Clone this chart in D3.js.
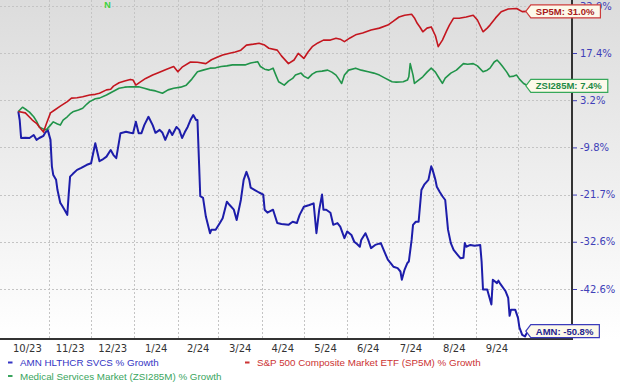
<!DOCTYPE html>
<html>
<head>
<meta charset="utf-8">
<script src="https://cdn.jsdelivr.net/npm/d3@7"></script>
<style>
html,body{margin:0;padding:0;background:#fff;}
svg{display:block;}
</style>
</head>
<body>
<svg id="chart" width="620" height="392"></svg>
<script>
// ---- Data ----
const monthTicks = ["2023-11-01","2023-12-01","2024-01-01","2024-02-01","2024-03-01","2024-04-01","2024-05-01","2024-06-01","2024-07-01","2024-08-01","2024-09-01","2024-10-01"];
const monthLabels = ["10/23","11/23","12/23","1/24","2/24","3/24","4/24","5/24","6/24","7/24","8/24","9/24"];
const yTickValues = [32.9, 17.4, 3.2, -9.8, -21.7, -32.6, -42.6];

const seriesNames = ["AMN HLTHCR SVCS % Growth", "S&P 500 Composite Market ETF (SP5M) % Growth", "Medical Services Market (ZSI285M) % Growth"];
const calloutLabels = ["AMN: -50.8%", "SP5M: 31.0%", "ZSI285M: 7.4%"];

const amnSeries = [
["2023-10-10",0.0],["2023-10-11",-2.4],["2023-10-12",-7.3],["2023-10-15",-7.2],["2023-10-18",-7.3],["2023-10-21",-6.5],["2023-10-23",-7.8],["2023-10-25",-7.3],["2023-10-28",-6.7],["2023-10-29",-6.0],["2023-10-31",-5.1],
["2023-11-02",-7.8],["2023-11-03",-14.7],["2023-11-04",-16.9],["2023-11-06",-18.1],["2023-11-07",-20.6],["2023-11-09",-23.7],["2023-11-10",-24.2],["2023-11-12",-25.3],["2023-11-14",-26.5],["2023-11-15",-21.7],["2023-11-16",-17.3],["2023-11-18",-16.6],["2023-11-21",-15.6],["2023-11-24",-15.1],["2023-11-28",-14.3],
["2023-12-01",-13.9],["2023-12-04",-8.7],["2023-12-07",-13.4],["2023-12-09",-13.0],["2023-12-12",-12.2],["2023-12-15",-10.5],["2023-12-17",-11.8],["2023-12-19",-12.6],["2023-12-22",-6.0],["2023-12-26",-5.6],["2023-12-29",-5.9],["2023-12-31",-6.0],
["2024-01-02",-2.9],["2024-01-04",-6.0],["2024-01-06",-6.0],["2024-01-08",-3.8],["2024-01-11",-1.5],["2024-01-14",-3.8],["2024-01-16",-5.9],["2024-01-19",-5.1],["2024-01-21",-5.9],["2024-01-23",-7.8],["2024-01-26",-5.1],["2024-01-28",-6.5],["2024-01-31",-4.3],
["2024-02-02",-5.1],["2024-02-04",-7.3],["2024-02-06",-5.7],["2024-02-08",-4.3],["2024-02-10",-2.4],["2024-02-12",-1.0],["2024-02-14",-2.4],["2024-02-15",-2.4],["2024-02-17",-22.1],["2024-02-19",-22.5],["2024-02-21",-26.9],["2024-02-24",-30.7],["2024-02-25",-29.9],["2024-02-28",-29.9],
["2024-03-02",-28.4],["2024-03-04",-27.3],["2024-03-07",-23.4],["2024-03-09",-24.2],["2024-03-12",-25.3],["2024-03-14",-27.7],["2024-03-17",-23.0],["2024-03-19",-18.1],["2024-03-21",-16.1],["2024-03-23",-18.1],["2024-03-24",-20.0],["2024-03-27",-20.6],["2024-03-30",-21.2],
["2024-04-02",-21.7],["2024-04-03",-25.3],["2024-04-05",-26.0],["2024-04-09",-25.3],["2024-04-12",-28.4],["2024-04-15",-28.6],["2024-04-20",-28.8],["2024-04-23",-28.1],["2024-04-26",-28.4],["2024-04-28",-26.5],
["2024-05-01",-24.6],["2024-05-05",-24.2],["2024-05-08",-23.8],["2024-05-10",-30.7],["2024-05-12",-25.3],["2024-05-14",-21.7],["2024-05-15",-25.3],["2024-05-17",-25.3],["2024-05-20",-26.0],["2024-05-22",-28.8],["2024-05-25",-28.4],["2024-05-27",-29.2],["2024-05-30",-31.8],
["2024-06-01",-30.3],["2024-06-04",-31.1],["2024-06-06",-32.6],["2024-06-08",-33.1],["2024-06-10",-33.7],["2024-06-11",-32.2],["2024-06-14",-30.7],["2024-06-16",-32.2],["2024-06-18",-34.0],["2024-06-21",-33.3],["2024-06-25",-32.9],["2024-06-28",-35.1],["2024-06-30",-36.5],
["2024-07-03",-37.6],["2024-07-04",-38.0],["2024-07-07",-38.3],["2024-07-09",-39.0],["2024-07-10",-40.7],["2024-07-12",-38.6],["2024-07-14",-37.2],["2024-07-15",-36.9],["2024-07-17",-32.2],["2024-07-18",-28.8],["2024-07-20",-28.1],["2024-07-22",-28.1],["2024-07-24",-20.6],["2024-07-26",-19.3],["2024-07-29",-18.1],["2024-07-31",-14.7],
["2024-08-01",-15.6],["2024-08-03",-18.1],["2024-08-04",-19.8],["2024-08-06",-21.0],["2024-08-08",-22.1],["2024-08-10",-23.0],["2024-08-12",-29.9],["2024-08-14",-32.9],["2024-08-16",-34.4],["2024-08-19",-35.5],["2024-08-21",-36.2],["2024-08-23",-36.1],["2024-08-24",-32.9],["2024-08-25",-33.7],["2024-08-28",-33.3],["2024-08-31",-33.5],
["2024-09-04",-33.3],["2024-09-05",-36.9],["2024-09-06",-42.7],["2024-09-09",-42.7],["2024-09-12",-45.7],["2024-09-13",-40.7],["2024-09-16",-41.4],["2024-09-17",-40.9],["2024-09-18",-41.4],["2024-09-22",-43.0],["2024-09-24",-44.4],["2024-09-25",-47.9],["2024-09-26",-46.7],["2024-09-29",-46.7],
["2024-10-01",-48.3],["2024-10-02",-50.1],["2024-10-04",-51.5],["2024-10-06",-51.8],["2024-10-08",-50.8]
];

const sp5mSeries = [
["2023-10-10",0.0],["2023-10-15",-0.4],["2023-10-20",-2.4],["2023-10-23",-3.3],["2023-10-25",-4.3],["2023-10-28",-5.7],["2023-10-30",-3.5],
["2023-11-02",-0.4],["2023-11-05",0.4],["2023-11-09",1.5],["2023-11-14",2.8],["2023-11-17",3.8],["2023-11-21",3.9],["2023-11-25",4.2],["2023-11-30",4.7],
["2023-12-04",4.9],["2023-12-07",5.2],["2023-12-12",6.2],["2023-12-15",6.4],["2023-12-17",7.3],["2023-12-21",8.3],["2023-12-25",8.8],["2023-12-29",9.3],["2023-12-31",9.1],
["2024-01-02",7.6],["2024-01-05",8.5],["2024-01-09",9.6],["2024-01-14",10.6],["2024-01-18",11.3],["2024-01-24",12.4],["2024-01-29",13.2],
["2024-02-01",11.6],["2024-02-04",13.0],["2024-02-10",14.6],["2024-02-15",14.5],["2024-02-21",14.1],["2024-02-25",15.3],["2024-02-29",16.1],
["2024-03-04",16.8],["2024-03-09",17.3],["2024-03-13",17.7],["2024-03-17",18.3],["2024-03-21",19.9],["2024-03-26",20.2],["2024-03-30",20.5],
["2024-04-03",19.9],["2024-04-06",18.9],["2024-04-12",18.3],["2024-04-15",16.5],["2024-04-20",14.1],["2024-04-24",15.2],["2024-04-27",17.3],
["2024-05-01",15.7],["2024-05-04",17.7],["2024-05-07",19.4],["2024-05-11",20.6],["2024-05-15",21.5],["2024-05-20",21.5],["2024-05-24",22.1],["2024-05-27",21.8],["2024-05-30",21.0],
["2024-06-03",22.2],["2024-06-07",23.2],["2024-06-12",23.8],["2024-06-18",24.8],["2024-06-24",25.4],["2024-06-30",26.4],
["2024-07-04",27.7],["2024-07-08",29.1],["2024-07-12",29.7],["2024-07-17",30.0],["2024-07-19",28.8],["2024-07-21",27.0],["2024-07-23",25.7],["2024-07-25",24.2],["2024-07-28",25.4],["2024-07-31",25.8],
["2024-08-03",22.9],["2024-08-05",19.4],["2024-08-08",21.5],["2024-08-11",24.5],["2024-08-13",26.4],["2024-08-16",28.7],["2024-08-20",28.7],["2024-08-25",29.1],["2024-08-30",29.7],
["2024-09-02",28.1],["2024-09-06",24.2],["2024-09-09",25.4],["2024-09-11",26.4],["2024-09-15",28.8],["2024-09-19",30.9],["2024-09-24",31.8],["2024-09-30",32.0],
["2024-10-04",30.9],["2024-10-08",31.0]
];

const zsi285mSeries = [
["2023-10-10",0.0],["2023-10-13",1.2],["2023-10-16",0.4],["2023-10-18",-0.2],["2023-10-21",-1.5],["2023-10-23",-2.7],["2023-10-25",-4.3],["2023-10-28",-4.9],["2023-10-30",-5.1],
["2023-11-02",-3.8],["2023-11-04",-2.9],["2023-11-07",-3.5],["2023-11-09",-3.8],["2023-11-11",-2.4],["2023-11-14",-1.5],["2023-11-16",-0.7],["2023-11-18",-0.1],["2023-11-22",0.4],["2023-11-25",0.9],["2023-11-28",2.1],["2023-11-30",2.8],
["2023-12-04",3.6],["2023-12-07",3.8],["2023-12-12",4.7],["2023-12-16",5.6],["2023-12-21",6.7],["2023-12-25",7.0],["2023-12-29",7.1],
["2024-01-04",7.1],["2024-01-08",6.7],["2024-01-12",6.2],["2024-01-16",5.9],["2024-01-21",5.2],["2024-01-25",6.2],["2024-01-29",6.7],
["2024-02-03",7.0],["2024-02-07",7.6],["2024-02-11",9.4],["2024-02-15",11.6],["2024-02-19",12.1],["2024-02-24",12.7],["2024-02-28",12.8],
["2024-03-03",13.2],["2024-03-07",13.4],["2024-03-11",13.7],["2024-03-16",13.7],["2024-03-20",13.7],["2024-03-24",14.3],["2024-03-29",14.7],["2024-03-31",13.2],
["2024-04-03",12.4],["2024-04-06",12.1],["2024-04-09",12.7],["2024-04-11",10.6],["2024-04-13",8.6],["2024-04-17",7.6],["2024-04-20",8.8],["2024-04-23",9.6],["2024-04-25",10.6],["2024-04-29",11.2],
["2024-05-01",10.3],["2024-05-04",9.6],["2024-05-07",10.9],["2024-05-10",11.6],["2024-05-14",11.8],["2024-05-18",12.1],["2024-05-21",11.5],["2024-05-24",10.6],["2024-05-26",9.4],["2024-05-28",8.1],["2024-05-30",10.6],
["2024-06-02",12.1],["2024-06-07",12.7],["2024-06-11",12.1],["2024-06-16",11.6],["2024-06-20",11.2],["2024-06-24",10.6],["2024-06-28",9.7],
["2024-07-03",8.6],["2024-07-06",8.5],["2024-07-11",8.6],["2024-07-14",9.1],["2024-07-15",10.1],["2024-07-16",14.1],["2024-07-18",10.6],["2024-07-19",8.1],["2024-07-22",9.1],["2024-07-25",10.1],["2024-07-28",11.5],["2024-07-31",12.7],
["2024-08-03",11.5],["2024-08-05",10.1],["2024-08-08",8.1],["2024-08-10",9.7],["2024-08-14",11.2],["2024-08-18",12.1],["2024-08-23",14.1],["2024-08-26",13.9],["2024-08-30",14.1],
["2024-09-02",13.4],["2024-09-06",11.6],["2024-09-09",12.1],["2024-09-11",12.7],["2024-09-14",14.6],["2024-09-16",15.2],["2024-09-18",14.3],["2024-09-20",13.2],["2024-09-23",11.5],["2024-09-25",10.1],["2024-09-28",10.3],["2024-09-30",10.6],
["2024-10-02",9.4],["2024-10-05",8.1],["2024-10-08",7.4]
];

// ---- Chart ----
const parse = d3.timeParse("%Y-%m-%d");
const svg = d3.select("#chart");
const W = 620, H = 392;
const axisX = 572, axisY = 339;
const C = 151.3; // offset of the chart's logarithmic growth axis

const x = d3.scaleTime().domain([parse("2023-10-01"), parse("2024-10-01")]).range([5.7, 518]);
const yLog = d3.scaleLog().domain([17.4 + C, -42.6 + C]).range([53, 289]);
const y = v => yLog(v + C);

const defs = svg.append("defs");
const grad = defs.append("linearGradient").attr("id","bg").attr("x1",0).attr("y1",0).attr("x2",0).attr("y2",1);
grad.append("stop").attr("offset","0%").attr("stop-color","#dcdcdc");
grad.append("stop").attr("offset","60%").attr("stop-color","#f1f1f1");
grad.append("stop").attr("offset","100%").attr("stop-color","#ffffff");

svg.append("rect").attr("width",W).attr("height",H).attr("fill","#fff");
svg.append("rect").attr("x",0).attr("y",0).attr("width",W).attr("height",axisY).attr("fill","url(#bg)");

// grid
const grid = svg.append("g").attr("stroke","#c4c4c4").attr("stroke-width",1).attr("stroke-dasharray","2,2");
grid.selectAll("line.v").data(monthTicks.map(parse)).join("line")
  .attr("x1",d=>Math.round(x(d))+0.5).attr("x2",d=>Math.round(x(d))+0.5)
  .attr("y1",0).attr("y2",axisY);
grid.selectAll("line.h").data(yTickValues).join("line")
  .attr("x1",0).attr("x2",axisX)
  .attr("y1",d=>Math.round(y(d))+0.5).attr("y2",d=>Math.round(y(d))+0.5);

// y axis (right)
const yAxis = d3.axisRight(yLog)
  .tickValues(yTickValues.map(v => v + C))
  .tickFormat(d => (d - C).toFixed(1) + "%")
  .tickSize(5).tickPadding(3);
const ya = svg.append("g").attr("transform",`translate(${axisX},0)`).call(yAxis);
ya.select(".domain").remove();
ya.selectAll(".tick line").attr("stroke","#4040b8");
ya.selectAll(".tick text").attr("fill","#4040b8").attr("font-family","DejaVu Sans, Verdana, sans-serif").attr("font-size","10px");

// x labels (centered in months)
const monthStarts = [parse("2023-10-01")].concat(monthTicks.map(parse));
svg.append("g").selectAll("text").data(monthLabels).join("text")
  .attr("x",(d,i)=> (x(monthStarts[i]) + x(monthStarts[i+1]))/2)
  .attr("y",351.5)
  .attr("text-anchor","middle")
  .attr("font-family","DejaVu Sans, Verdana, sans-serif")
  .attr("font-size","10px")
  .attr("fill","#333")
  .text(d=>d);

// lines
const line = d3.line().x(d=>x(parse(d[0]))).y(d=>y(d[1]));
const series = [
  {data: amnSeries, color:"#1d1daa", width:2},
  {data: zsi285mSeries, color:"#21944a", width:1.6},
  {data: sp5mSeries, color:"#c4161f", width:1.6}
];
svg.append("g").selectAll("path").data(series).join("path")
  .attr("d",d=>line(d.data)).attr("fill","none")
  .attr("stroke",d=>d.color).attr("stroke-width",d=>d.width)
  .attr("stroke-linejoin","round");

// axes lines
svg.append("line").attr("x1",0).attr("x2",axisX+1).attr("y1",axisY).attr("y2",axisY).attr("stroke","#333").attr("stroke-width",2);
svg.append("line").attr("x1",axisX).attr("x2",axisX).attr("y1",0).attr("y2",axisY).attr("stroke","#333").attr("stroke-width",2);

// green N marker at top
svg.append("text").attr("x",107.5).attr("y",8).attr("text-anchor","middle")
  .attr("font-family","Liberation Sans, Arial, sans-serif").attr("font-weight","bold")
  .attr("font-size","9px").attr("fill","#3ad13a").text("N");

// callouts
const callouts = [
  {data: amnSeries, label: calloutLabels[0], stroke:"#3b3bbb", text:"#25258f"},
  {data: sp5mSeries, label: calloutLabels[1], stroke:"#cc3b3b", text:"#a81a1a"},
  {data: zsi285mSeries, label: calloutLabels[2], stroke:"#36a85a", text:"#1f8a45"}
];
callouts.forEach(c => {
  const last = c.data[c.data.length-1];
  const tipX = x(parse(last[0])) - 2;
  const cy = y(last[1]);
  const g = svg.append("g");
  const path = g.append("path");
  const t = g.append("text").attr("x",tipX+10).attr("y",cy+3.5)
    .attr("font-family","Liberation Sans, Arial, sans-serif").attr("font-weight","bold")
    .attr("font-size","9.5px").attr("fill",c.text).text(c.label);
  const tw = t.node().getComputedTextLength();
  const h = 13, left = tipX + 5, right = tipX + 10 + tw + 6;
  path.attr("d",`M${tipX},${cy} L${left},${cy-h/2} L${right},${cy-h/2} L${right},${cy+h/2} L${left},${cy+h/2} Z`)
    .attr("fill","#fdf9ea").attr("stroke",c.stroke).attr("stroke-width",1.2);
});

// legend
const legend = [
  {name: seriesNames[0], color:"#3434c4", tx:20, ty:366},
  {name: seriesNames[1], color:"#cc3333", tx:257, ty:366},
  {name: seriesNames[2], color:"#3aa55e", tx:20, ty:379.5}
];
const lg = svg.append("g");
legend.forEach(l => {
  lg.append("rect").attr("x",l.tx-12).attr("y",l.ty-4.5).attr("width",4.5).attr("height",2).attr("fill",l.color);
  lg.append("text").attr("x",l.tx).attr("y",l.ty)
    .attr("font-family","Liberation Sans, Arial, sans-serif").attr("font-size","9.8px")
    .attr("fill",l.color).text(l.name);
});
</script>
</body>
</html>
